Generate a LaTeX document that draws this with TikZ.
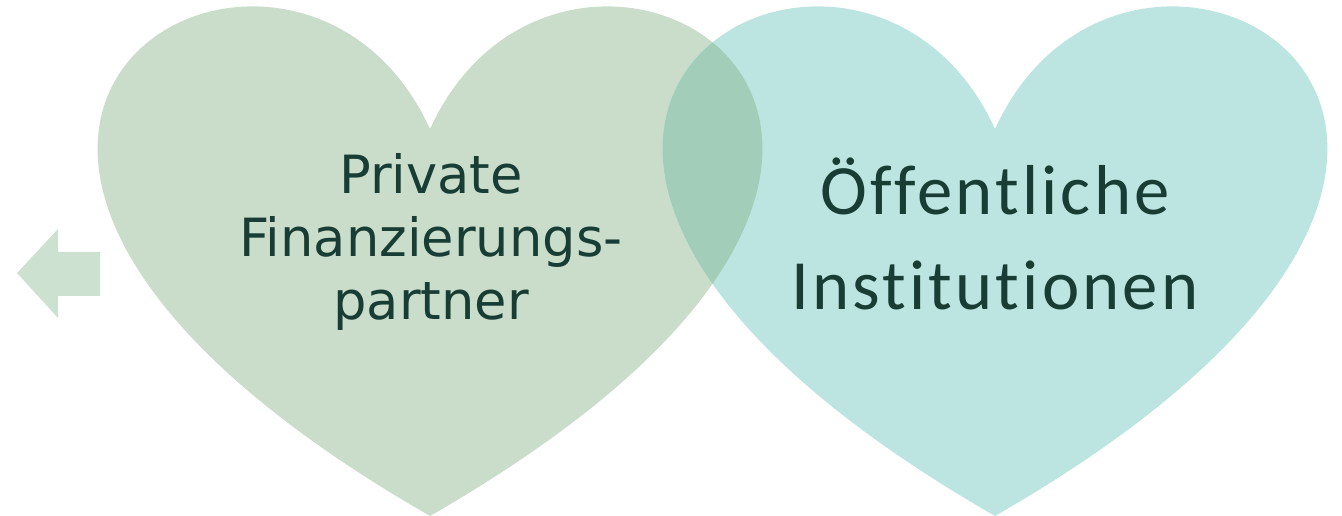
\documentclass[tikz,border=0pt]{standalone}
\usepackage{fontspec}
\setmainfont{DejaVu Sans}
\newfontfamily\calib[Ligatures=NoCommon, LetterSpace=4.5]{Carlito}
\usetikzlibrary{calc}

\definecolor{heartA}{HTML}{CADDCB}
\definecolor{heartB}{HTML}{BCE5E1}
\definecolor{heartAB}{HTML}{A2CDB8}
\definecolor{arrowfill}{HTML}{CDE1D0}
\definecolor{textdark}{HTML}{173D34}

% Heart outline with its cusp at (#1,129) and its tip at (#1,516)
\newcommand{\heartpath}[1]{%
  (#1,129) .. controls ({#1+137.5},-172) and ({#1+673.75},129) .. (#1,516)
           .. controls ({#1-673.75},129) and ({#1-137.5},-172) .. (#1,129) -- cycle}

\tikzset{
  label text/.style={text=textdark, align=center, inner sep=0pt},
}

\begin{document}
\begin{tikzpicture}[x=0.75pt, y=-0.75pt]
  \useasboundingbox (0,0) rectangle (1342,516);

  % two hearts and their common part
  \fill[heartA] \heartpath{430};
  \fill[heartB] \heartpath{995};
  \begin{scope}
    \clip \heartpath{430};
    \fill[heartAB] \heartpath{995};
  \end{scope}

  % arrow pointing left
  \fill[arrowfill] (17,273) -- (58,229) -- (58,252) -- (100,252)
                   -- (100,296) -- (58,296) -- (58,318) -- cycle;

  \node[label text, font=\fontsize{39.5}{47.5}\selectfont] (private) at (431,242)
    {Private\\Finanzierungs-\\partner};
  \node[label text, font=\calib\fontsize{53}{71}\selectfont] (public) at (995,234)
    {Öffentliche\\Institutionen};
\end{tikzpicture}
\end{document}
